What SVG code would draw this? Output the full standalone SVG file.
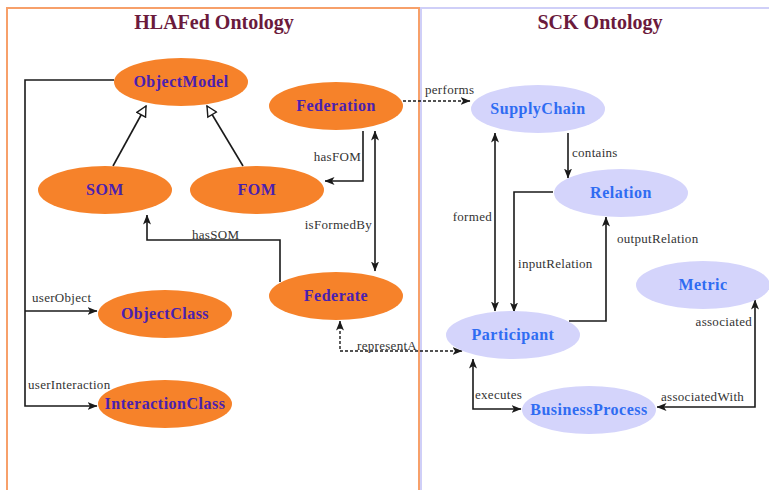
<svg xmlns="http://www.w3.org/2000/svg" width="769" height="490" viewBox="0 0 769 490">
<style>
.lbox{fill:none;stroke:#f7a06a;stroke-width:2}
.rbox{fill:none;stroke:#cfcff8;stroke-width:2}
.title{font-family:"Liberation Serif","DejaVu Serif",serif;font-weight:bold;font-size:20px;fill:#6b1a3c;text-anchor:middle}
.on{fill:#f6822a}
.sn{fill:#d4d4fb}
.ot{font-family:"Liberation Serif","DejaVu Serif",serif;font-weight:bold;font-size:16px;letter-spacing:0.5px;fill:#4a1fb0;text-anchor:middle}
.st{font-family:"Liberation Serif","DejaVu Serif",serif;font-weight:bold;font-size:16px;letter-spacing:0.5px;fill:#2f6cf2;text-anchor:middle}
.e{fill:none;stroke:#1a1a1a;stroke-width:1.6}
.d{fill:none;stroke:#1a1a1a;stroke-width:1.4;stroke-dasharray:3,2}
.lb{font-family:"Liberation Serif","DejaVu Serif",serif;font-size:13px;letter-spacing:0.3px;fill:#333}
.r{text-anchor:end}
</style>
<defs>
<marker id="ah" viewBox="0 0 10 8" refX="9.5" refY="4" markerWidth="10" markerHeight="8" markerUnits="userSpaceOnUse" orient="auto-start-reverse">
<path d="M0,0 L10,4 L0,8 L2.5,4 z" fill="#1a1a1a"/>
</marker>
<marker id="tri" viewBox="0 0 12 12" refX="11" refY="6" markerWidth="12" markerHeight="12" markerUnits="userSpaceOnUse" orient="auto">
<path d="M1,1 L11,6 L1,11 z" fill="#fff" stroke="#1a1a1a" stroke-width="1.4"/>
</marker>
</defs>
<rect width="769" height="490" fill="#fff"/>
<rect class="lbox" x="7" y="8" width="412" height="500"/>
<rect class="rbox" x="421" y="8" width="360" height="500"/>
<text class="title" x="214" y="29">HLAFed Ontology</text>
<text class="title" x="600" y="29">SCK Ontology</text>

<g id="connectors">
<polyline class="e" points="114,80 25,80 25,406 97,406" marker-end="url(#ah)"/>
<polyline class="e" points="25,311 97,311" marker-end="url(#ah)"/>
<line class="e" x1="113" y1="166" x2="146" y2="106" marker-end="url(#tri)"/>
<line class="e" x1="243" y1="166" x2="207" y2="106" marker-end="url(#tri)"/>
<polyline class="e" points="363,131 363,181 325,181" marker-end="url(#ah)"/>
<line class="e" x1="375" y1="131" x2="375" y2="271" marker-start="url(#ah)" marker-end="url(#ah)"/>
<polyline class="e" points="280,282 280,240 147,240 147,215" marker-end="url(#ah)"/>
<line class="d" x1="403" y1="101" x2="470" y2="101" marker-end="url(#ah)"/>
<polyline class="d" points="340,321 340,351 462,351" marker-start="url(#ah)" marker-end="url(#ah)"/>
<line class="e" x1="495" y1="133" x2="495" y2="311" marker-start="url(#ah)" marker-end="url(#ah)"/>
<line class="e" x1="568" y1="133" x2="568" y2="178" marker-end="url(#ah)"/>
<polyline class="e" points="553,192 514,192 514,312" marker-end="url(#ah)"/>
<polyline class="e" points="569,321 606,321 606,217" marker-end="url(#ah)"/>
<polyline class="e" points="473,359 473,409 521,409" marker-start="url(#ah)" marker-end="url(#ah)"/>
<polyline class="e" points="657,407 755,407 755,300" marker-start="url(#ah)" marker-end="url(#ah)"/>
<text class="lb" x="32" y="302">userObject</text>
<text class="lb" x="28" y="389">userInteraction</text>
<text class="lb r" x="361" y="161">hasFOM</text>
<text class="lb r" x="372" y="229">isFormedBy</text>
<text class="lb" x="192" y="239">hasSOM</text>
<text class="lb" x="425" y="94">performs</text>
<text class="lb" x="357" y="350">representA</text>
<text class="lb r" x="492" y="221">formed</text>
<text class="lb" x="572" y="157">contains</text>
<text class="lb" x="518" y="268">inputRelation</text>
<text class="lb" x="617" y="243">outputRelation</text>
<text class="lb" x="475" y="399">executes</text>
<text class="lb" x="661" y="401">associatedWith</text>
<text class="lb r" x="752" y="326">associated</text>
</g>

<g id="ObjectModel"><ellipse class="on" cx="181" cy="82" rx="67" ry="24"/><text class="ot" x="181" y="87">ObjectModel</text></g>
<g id="Federation"><ellipse class="on" cx="336" cy="106" rx="67" ry="24"/><text class="ot" x="336" y="111">Federation</text></g>
<g id="SOM"><ellipse class="on" cx="105" cy="190" rx="67" ry="24"/><text class="ot" x="105" y="195">SOM</text></g>
<g id="FOM"><ellipse class="on" cx="257" cy="190" rx="67" ry="24"/><text class="ot" x="257" y="195">FOM</text></g>
<g id="Federate"><ellipse class="on" cx="336" cy="296" rx="67" ry="24"/><text class="ot" x="336" y="301">Federate</text></g>
<g id="ObjectClass"><ellipse class="on" cx="165" cy="314" rx="67" ry="24"/><text class="ot" x="165" y="319">ObjectClass</text></g>
<g id="InteractionClass"><ellipse class="on" cx="165" cy="404" rx="67" ry="24"/><text class="ot" x="165" y="409">InteractionClass</text></g>

<g id="SupplyChain"><ellipse class="sn" cx="538" cy="109" rx="67" ry="24"/><text class="st" x="538" y="114">SupplyChain</text></g>
<g id="Relation"><ellipse class="sn" cx="621" cy="193" rx="67" ry="24"/><text class="st" x="621" y="198">Relation</text></g>
<g id="Metric"><ellipse class="sn" cx="703" cy="285" rx="67" ry="24"/><text class="st" x="703" y="290">Metric</text></g>
<g id="Participant"><ellipse class="sn" cx="513" cy="335" rx="67" ry="24"/><text class="st" x="513" y="340">Participant</text></g>
<g id="BusinessProcess"><ellipse class="sn" cx="589" cy="410" rx="67" ry="24"/><text class="st" x="589" y="415">BusinessProcess</text></g>
</svg>
